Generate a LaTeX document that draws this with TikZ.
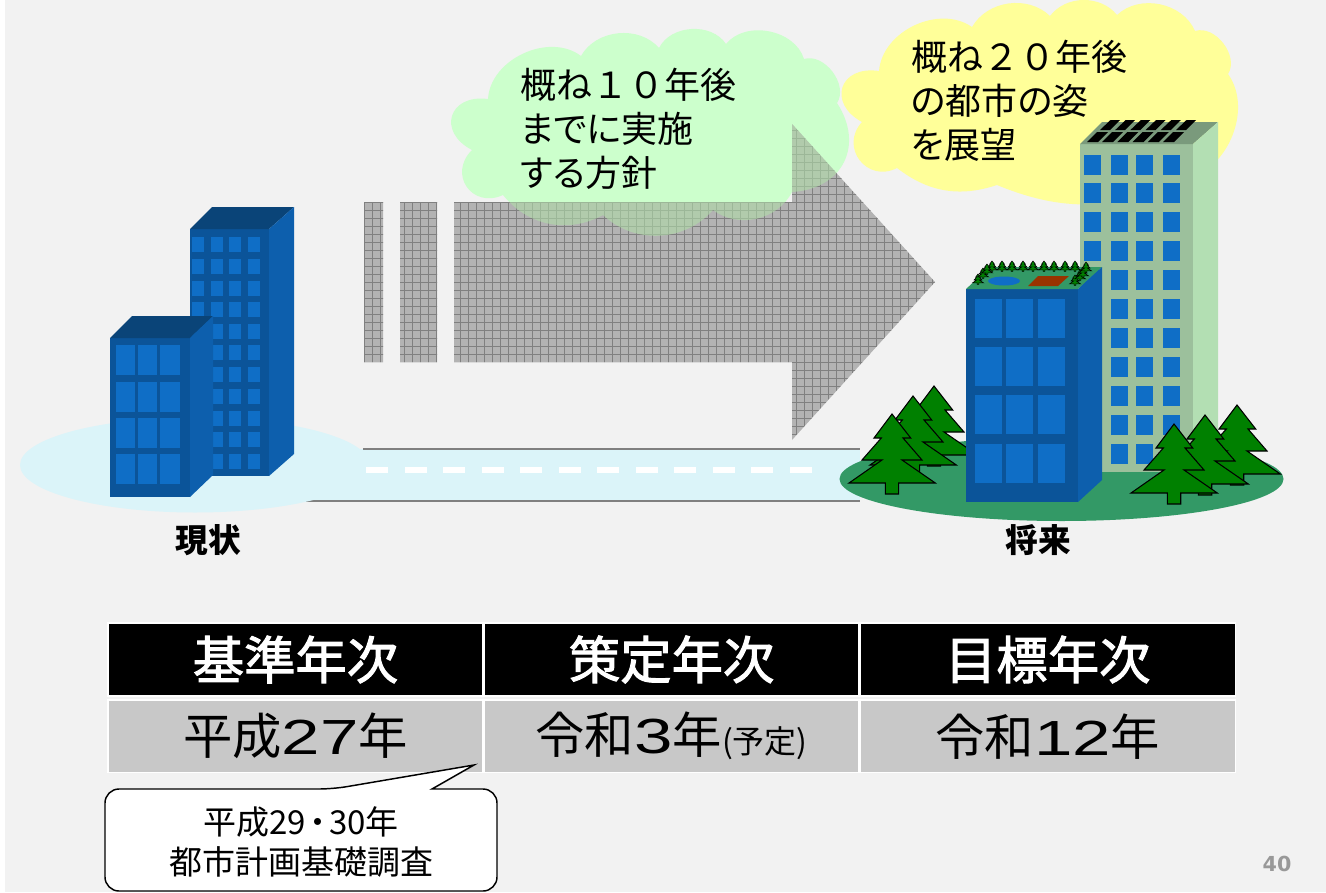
\documentclass[tikz,border=0pt]{standalone}
\usepackage{fontspec}
\setmainfont{Noto Sans CJK JP}
\newfontfamily\propfont[RawFeature={+palt}]{Noto Sans CJK JP}
\newfontfamily\headfont[FakeBold=2]{Noto Sans CJK JP}
\newfontfamily\digitfont[FakeStretch=1.4]{Liberation Sans}
\newfontfamily\pagefont{DejaVu Sans}
\usetikzlibrary{positioning}
\definecolor{paper}{HTML}{F2F2F2}
\definecolor{cloudgreen}{HTML}{CCFFCC}
\definecolor{cloudshade}{HTML}{B0DCA8}
\definecolor{cloudyellow}{HTML}{FFFF99}
\definecolor{arrowgrey}{HTML}{B3B3B3}
\definecolor{gridgrey}{HTML}{808080}
\definecolor{groundblue}{HTML}{DBF4F9}
\definecolor{groundgreen}{HTML}{339966}
\definecolor{wallfront}{HTML}{0B5499}
\definecolor{wallside}{HTML}{0D5FAD}
\definecolor{walltop}{HTML}{0A4478}
\definecolor{windowblue}{HTML}{0F6EC6}
\definecolor{ecofront}{HTML}{9CC09C}
\definecolor{ecoside}{HTML}{B3DFB3}
\definecolor{ecotop}{HTML}{7A9A7C}
\definecolor{roofbrown}{HTML}{993300}
\definecolor{pine}{HTML}{008000}
\definecolor{cellgrey}{HTML}{C8C8C8}
\tikzset{
    >=stealth,
    cloudtext/.style={
        font=\propfont\fontsize{27}{33}\selectfont,
        align=left,
        anchor=west,
        inner sep=0pt
    },
    sitelabel/.style={
        font=\bfseries\fontsize{24.5}{24.5}\selectfont,
        inner sep=0pt
    },
    headcell/.style={
        rectangle,
        fill=black,
        draw=white, line width=1pt,
        text=white,
        minimum width=281.1pt,
        minimum height=54.6pt,
        inner sep=0pt,
        font=\headfont\fontsize{38.5}{38.5}\selectfont
    },
    rowcell/.style={
        rectangle,
        fill=cellgrey,
        draw=white, line width=1pt,
        minimum width=281.1pt,
        minimum height=54.6pt,
        inner sep=0pt,
        font=\fontsize{37}{37}\selectfont
    },
    pics/pinetree/.style={
        code={
            \filldraw[fill=pine, draw=black, line join=miter]
                (0,0) -- (18.7,24) -- (11,24) -- (30,46) -- (10,46) -- (43.3,69) -- (6.7,69)
                -- (6.7,80) -- (-6.7,80) -- (-6.7,69) -- (-43,69) -- (-10,46) -- (-30,46)
                -- (-10.7,24) -- (-18,24) -- cycle;
        }
    }
}
\def\greencloud{(488,99) to[bend left=62] (581,56) to[bend left=55] (659,48) to[bend left=60] (726,44)
    to[bend left=62] (804,59) to[bend left=70] (837,103) to[bend left=60, looseness=1.3] (792,192)
    to[bend left=50] (713,210) to[bend left=46] (603,215) to[bend left=40] (503,195)
    to[bend left=80, looseness=1.6] (472,150) to[bend left=80, looseness=1.9] (488,99)}
\def\yellowcloud{(879,71) to[bend left=60] (972,27) to[bend left=52] (1050,16) to[bend left=52] (1117,15)
    to[bend left=55] (1195,31) to[bend left=70] (1228,74) to[bend left=60] (1180,180)
    to[bend left=24] (997,185) to[bend left=28] (897,168) to[bend left=80, looseness=1.5] (862,122)
    to[bend left=80, looseness=1.9] (879,71)}
\def\movearrow{(364,202) rectangle (383,362) (400,202) rectangle (437,362)
    (454,202) -- (792,202) -- (792,124) -- (935,282) -- (792,440) -- (792,362) -- (454,362) -- cycle}
\begin{document}
\begin{tikzpicture}[x=.75pt, y=-.75pt]
\useasboundingbox (0,0) rectangle (1326,892);
\fill[white] (0,0) rectangle (1326,892);
\fill[paper] (5,0) rectangle (1326,892);

% road and the two plots
\fill[groundblue] (300,449) rectangle (860,501);
\draw[gridgrey, line width=.9pt] (363,449) -- (860,449);
\draw[gridgrey, line width=.9pt] (302,501) -- (860,501);
\fill[groundblue] (195,465) ellipse [x radius=175, y radius=47.5];
\foreach \dashx in {366,404.5,...,800}
    \fill[white] (\dashx,467) rectangle ++(22,6);

% clouds and the arrow passing under them
\fill[cloudgreen] \greencloud -- cycle;
\fill[arrowgrey] \movearrow;
\begin{scope}
    \clip \movearrow;
    \foreach \gx in {364,372,...,940}
        \draw[gridgrey, line width=.4pt] (\gx,120) -- (\gx,445);
    \foreach \gy in {122,130,...,442}
        \draw[gridgrey, line width=.4pt] (360,\gy) -- (940,\gy);
    \fill[cloudshade, opacity=.6] \greencloud -- cycle;
\end{scope}
\fill[cloudyellow] \yellowcloud -- cycle;
\node[cloudtext] (tenyears) at (520,129) {概ね{\normalfont １０}年後\\までに実施\\する方針};
\node[cloudtext] (twentyyears) at (911,101) {概ね{\normalfont ２０}年後\\の都市の姿\\を展望};

% present buildings
\fill[wallfront] (190,229) rectangle (269,476);
\fill[walltop] (190,229) -- (212,207) -- (294,207) -- (269,229) -- cycle;
\fill[wallside] (269,229) -- (294,207) -- (294,454) -- (269,476) -- cycle;
\foreach \wx in {192,211,229,248}
    \foreach \wy in {237,259,281,302,324,345,367,389,411,432,454}
        \fill[windowblue] (\wx,\wy) rectangle ++(12,15);
\fill[wallfront] (110,338) rectangle (190,497);
\fill[walltop] (110,338) -- (132,316) -- (213,316) -- (190,338) -- cycle;
\fill[wallside] (190,338) -- (213,316) -- (213,475) -- (190,497) -- cycle;
\foreach \wx/\ww in {116/19,138/19,160/20}
    \foreach \wy in {345,382,418,454}
        \fill[windowblue] (\wx,\wy) rectangle ++(\ww,29.5);
\node[sitelabel] (present) at (208,540) {現状};

% future plot
\fill[groundgreen] (1061.5,479) ellipse [x radius=222, y radius=42];
\foreach \tx/\ty in {934/386,913/396,892/414}
    \pic[line width=.8pt] at (\tx,\ty) {pinetree};

\fill[ecofront] (1080,144) rectangle (1193,472);
\fill[ecotop] (1080,144) -- (1102,122) -- (1218,122) -- (1193,144) -- cycle;
\fill[ecoside] (1193,144) -- (1218,122) -- (1218,450) -- (1193,472) -- cycle;
\foreach \wx in {1084,1111,1136,1163}
    \foreach \wy in {155,183,212,241,270,299,328,357,386,415,444}
        \fill[windowblue] (\wx,\wy) rectangle ++(17,20);
\foreach \px in {0,...,5} {
    \fill[black] (1100+15.2*\px,130) -- (1110.5+15.2*\px,120) -- (1120+15.2*\px,120) -- (1110+15.2*\px,130) -- cycle;
    \fill[black] (1087+15.2*\px,142) -- (1097+15.2*\px,132) -- (1108+15.2*\px,132) -- (1098+15.2*\px,142) -- cycle;
}

\fill[wallfront] (966,289) rectangle (1078,502);
\fill[groundgreen] (966,289) -- (990,267) -- (1102,267) -- (1078,289) -- cycle;
\fill[wallside] (1078,289) -- (1102,267) -- (1102,480) -- (1078,502) -- cycle;
\foreach \wx in {975,1006,1038}
    \foreach \wy in {299,347,395,444}
        \fill[windowblue] (\wx,\wy) rectangle ++(27,39);
\fill[windowblue] (1004,281) ellipse [x radius=16, y radius=4.5];
\fill[roofbrown] (1028,286) -- (1038,276) -- (1069,276) -- (1058,286) -- cycle;
\foreach \tx/\ty in {992/261,1002/261,1012/261,1023/261,1033/261,1044/261,1054/261,1065/261,1075/261,
                     978/274,983/268,987/264,1075/275,1080/270,1083/267,1086/262}
    \pic[line width=.4pt, scale=.13] at (\tx,\ty) {pinetree};
\foreach \tx/\ty in {1237/405,1205/415,1174/424}
    \pic[line width=.8pt] at (\tx,\ty) {pinetree};
\node[sitelabel] (future) at (1038,540) {将来};

% year table
\node[headcell] (basehead) at (295.5,659.5) {基準年次};
\node[headcell, right=0pt of basehead] (planhead) {策定年次};
\node[headcell, right=0pt of planhead] (goalhead) {目標年次};
\node[rowcell, below=2pt of basehead] (baseyear) {平成{\digitfont 27}年};
\node[rowcell, below=2pt of planhead] (planyear) {令和{\digitfont 3}年{\fontsize{24}{24}\selectfont(予定)}};
\node[rowcell, below=2pt of goalhead] (goalyear) {令和{\digitfont 12}年};

% callout under the base year
\draw[fill=white, line width=1.1pt, rounded corners=10.5pt]
    (105,789) -- (333,789) [sharp corners] -- (474,765) -- (432,789) [rounded corners=10.5pt]
    -- (497,789) -- (497,891) -- (105,891) -- cycle;
\node[align=center, inner sep=0pt, font=\propfont\fontsize{24.75}{29.5}\selectfont] (survey) at (301,842)
    {平成29\kern.1em・\kern.1em30年\\都市計画基礎調査};

\node[inner sep=0pt, text=black!40, font=\pagefont\bfseries\fontsize{15.5}{15.5}\selectfont] (pagenumber) at (1277,864) {40};
\end{tikzpicture}
\end{document}
